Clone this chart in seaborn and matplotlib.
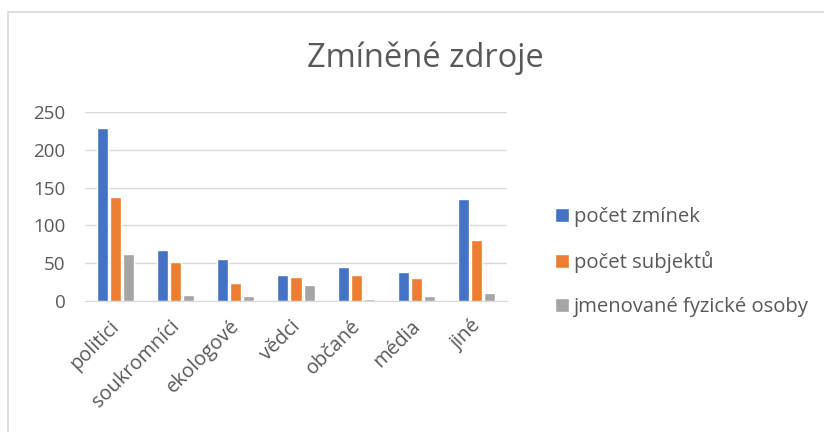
import pandas as pd
import seaborn as sns
import matplotlib.pyplot as plt
from matplotlib.patches import Rectangle
from matplotlib.transforms import ScaledTranslation

# Data
categories = ['politici', 'soukromníci', 'ekologové', 'vědci', 'občané', 'média', 'jiné']
pocet_zminek = [229, 67, 55, 35, 45, 38, 135]
pocet_subjektu = [137, 51, 24, 32, 34, 30, 81]
fyzicke_osoby = [62, 8, 7, 21, 3, 7, 10]
series_names = ['počet zmínek', 'počet subjektů', 'jmenované fyzické osoby']
colors = ['#4472c4', '#ed7d31', '#a5a5a5']
yticks = [0, 50, 100, 150, 200, 250]

df = pd.DataFrame({
    'kategorie': categories * 3,
    'hodnota': pocet_zminek + pocet_subjektu + fyzicke_osoby,
    'serie': [series_names[0]] * 7 + [series_names[1]] * 7 + [series_names[2]] * 7,
})

sns.set_style('white')
plt.rcParams['font.family'] = ['Open Sans', 'DejaVu Sans']
text_color = '#595959'

fig = plt.figure(figsize=(8.24, 4.32), dpi=100)
W, H = 824, 432
ax = fig.add_axes([85 / W, 1 - 301 / H, (507 - 85) / W, (301 - 112) / H])

sns.barplot(data=df, x='kategorie', y='hodnota', hue='serie', palette=colors,
            width=0.65, gap=0.15, ax=ax, saturation=1)

ax.set_ylim(0, 250)
ax.set_xlim(-0.5, len(categories) - 0.5)
ax.set_yticks(yticks)
ax.yaxis.grid(True, color='#d9d9d9', linewidth=1)
ax.set_axisbelow(True)
for s in ['top', 'right', 'left']:
    ax.spines[s].set_visible(False)
ax.spines['bottom'].set_color('#d9d9d9')
ax.set_xlabel('')
ax.set_ylabel('')
ax.tick_params(axis='both', length=0, colors=text_color, labelsize=13.5)
ax.tick_params(axis='x', labelsize=14.3, pad=11)
ax.tick_params(axis='y', pad=14)
shift = ScaledTranslation(-6 / 100, 0, fig.dpi_scale_trans)
for lbl in ax.get_xticklabels():
    lbl.set_rotation(45)
    lbl.set_ha('right')
    lbl.set_rotation_mode('anchor')
    lbl.set_transform(lbl.get_transform() + shift)

fig.text(425 / W, 1 - 58 / H, 'Zmíněné zdroje', ha='center', va='center',
         fontsize=23.5, color=text_color)

handles, labels = ax.get_legend_handles_labels()
ax.legend(handles, labels, loc='center left', bbox_to_anchor=(537 / W, 1 - 262 / H),
          bbox_transform=fig.transFigure, frameon=False, fontsize=14.6,
          labelcolor=text_color, handlelength=0.7, handleheight=0.7,
          handletextpad=0.2, labelspacing=1.17)

fig.add_artist(Rectangle((8 / W, -0.1), 1.2, 1 - 12 / H + 0.1, transform=fig.transFigure,
                         fill=False, edgecolor='#d9d9d9', linewidth=1.2))

plt.savefig('out.png', dpi=100)
